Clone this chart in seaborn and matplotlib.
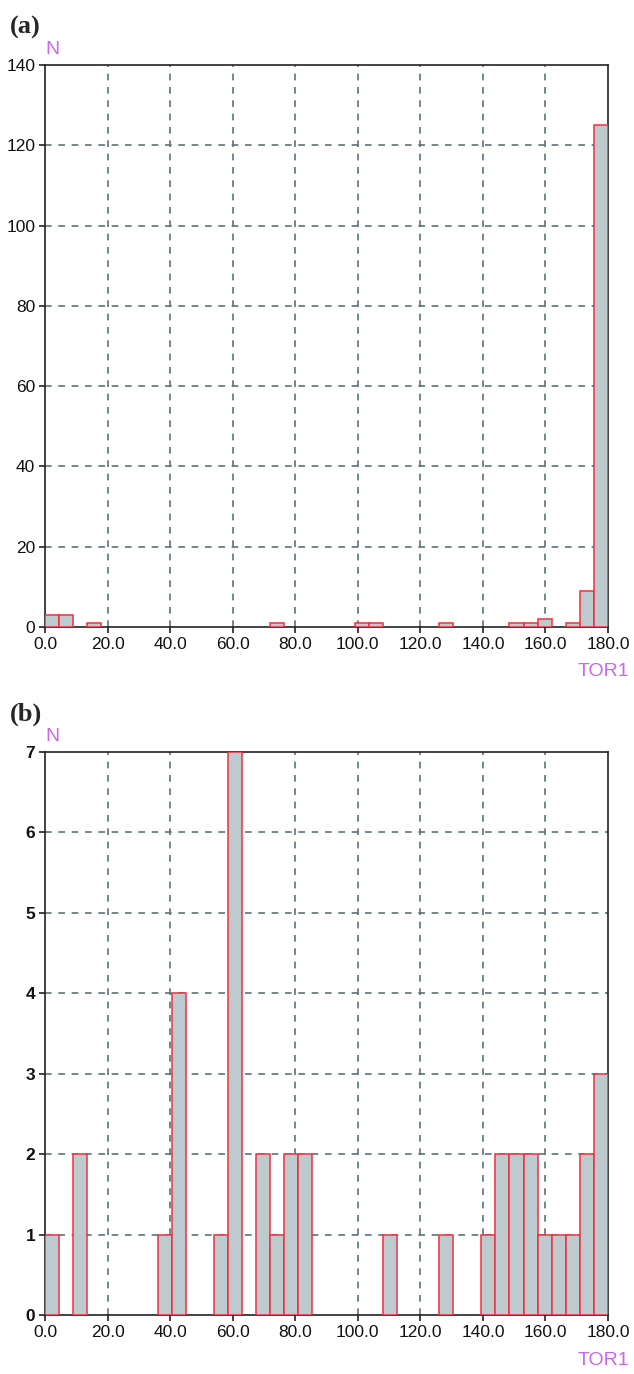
import matplotlib
matplotlib.use("Agg")
import matplotlib.pyplot as plt
import numpy as np
import pandas as pd
import seaborn as sns

sns.set_theme(style="white")
plt.rcParams["font.family"] = ["Liberation Sans", "DejaVu Sans"]

# 40 bins of 4.5 degrees between 0 and 180
bin_edges = np.linspace(0.0, 180.0, 41)
counts_a = [3, 3, 0, 1, 0, 0, 0, 0, 0, 0,
            0, 0, 0, 0, 0, 0, 1, 0, 0, 0,
            0, 0, 1, 1, 0, 0, 0, 0, 1, 0,
            0, 0, 0, 1, 1, 2, 0, 1, 9, 125]
counts_b = [1, 0, 2, 0, 0, 0, 0, 0, 1, 4,
            0, 0, 1, 7, 0, 2, 1, 2, 2, 0,
            0, 0, 0, 0, 1, 0, 0, 0, 1, 0,
            0, 1, 2, 2, 2, 1, 1, 1, 2, 3]
x_ticks = [0, 20, 40, 60, 80, 100, 120, 140, 160, 180]
y_ticks_a = [0, 20, 40, 60, 80, 100, 120, 140]
y_ticks_b = [0, 1, 2, 3, 4, 5, 6, 7]

FILL = "#bdcbce"
EDGE = "#f03040"
GRID = "#5b7479"
PURPLE = "#cc66ee"

fig = plt.figure(figsize=(6.34, 13.74), dpi=100)
ax_a = fig.add_axes([0.071, 0.5437, 0.888, 0.409])
ax_b = fig.add_axes([0.071, 0.0429, 0.888, 0.4098])


def draw_panel(ax, counts, yticks, label, bold_y):
    frame = pd.DataFrame({
        "tor1": (bin_edges[:-1] + bin_edges[1:]) / 2,
        "n": np.asarray(counts, dtype=float),
    })
    sns.histplot(data=frame, x="tor1", weights="n", bins=list(bin_edges), ax=ax,
                 color=FILL, edgecolor=EDGE, linewidth=1.1, alpha=1.0, zorder=3)
    for p in ax.patches:
        if p.get_height() == 0:
            p.set_visible(False)
    ax.set_xlim(0, 180)
    ax.set_ylim(yticks[0], yticks[-1])
    ax.set_xticks(x_ticks)
    ax.set_xticklabels([f"{v:.1f}" for v in x_ticks])
    ax.set_yticks(yticks)
    ax.set_xlabel("")
    ax.set_ylabel("")
    for v in x_ticks[1:-1]:
        ax.axvline(v, color=GRID, linestyle=(0, (4, 4)), linewidth=1.2, zorder=1)
    for v in yticks[1:-1]:
        ax.axhline(v, color=GRID, linestyle=(0, (4, 4)), linewidth=1.2, zorder=1)
    for s in ax.spines.values():
        s.set_color("#222222")
        s.set_linewidth(1.2)
        s.set_visible(True)
    ax.tick_params(axis="both", direction="out", length=4, width=1.2,
                   color="#222222", labelsize=12.5, labelcolor="#111111",
                   bottom=True, left=True, pad=3)
    if bold_y:
        for t in ax.get_yticklabels():
            t.set_fontweight("bold")
    ax.text(-0.062, 1.046, label, transform=ax.transAxes, fontsize=19,
            fontweight="bold", family=["Liberation Serif", "DejaVu Serif"],
            ha="left", va="bottom")
    ax.text(0.0, 1.012, "N", transform=ax.transAxes, fontsize=14,
            color=PURPLE, ha="left", va="bottom")
    ax.text(1.038, -0.065, "TOR1", transform=ax.transAxes, fontsize=14,
            color=PURPLE, ha="right", va="top")


draw_panel(ax_a, counts_a, y_ticks_a, "(a)", False)
draw_panel(ax_b, counts_b, y_ticks_b, "(b)", True)

fig.savefig("out.png", dpi=100)
